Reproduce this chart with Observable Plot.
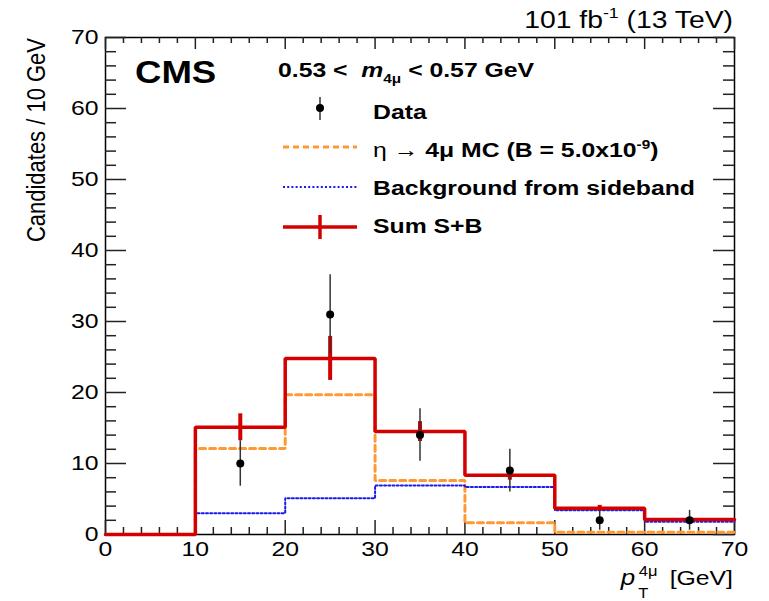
<!DOCTYPE html>
<html>
<head>
<meta charset="utf-8">
<script src="https://cdn.jsdelivr.net/npm/d3@7"></script>
<script src="https://cdn.jsdelivr.net/npm/@observablehq/plot@0.6"></script>
<style>
  html, body { margin: 0; padding: 0; background: white; }
  #chart svg { display: block; }
</style>
</head>
<body>
<div id="chart"></div>
<script>
// ---- data ----
const xEdges = [0, 10, 20, 30, 40, 50, 60, 70];          // bin edges (GeV)
const binCenters = [5, 15, 25, 35, 45, 55, 65];
const mcSignal = [0, 12.1, 19.7, 7.6, 1.65, 0.3, 0.3];  // eta -> 4mu MC
const bkgSideband = [0, 3.0, 5.1, 6.9, 6.7, 3.4, 1.8];  // background from sideband
const sumSB = [0, 15.1, 24.8, 14.5, 8.35, 3.7, 2.1];    // sum S+B
const sumErr = [0, 1.9, 3.1, 1.4, 0.7, 0.4, 0.3];
const dataX = [15, 25, 35, 45, 55, 65];
const dataY = [10, 31, 14, 9, 2, 2];
const dataErr = [3.2, 5.6, 3.7, 3.0, 1.4, 1.4];
const xMajor = [0, 10, 20, 30, 40, 50, 60, 70];
const yMajor = [0, 10, 20, 30, 40, 50, 60, 70];
const xMinor = d3.range(2, 70, 2).filter(v => v % 10 !== 0);
const yMinor = d3.range(2, 70, 2).filter(v => v % 10 !== 0);
const legendLabels = ["Data", "MC", "Background from sideband", "Sum S+B"];

// ---- layout ----
const W = 769, H = 601;
const mL = 105, mR = 35, mT = 37, mB = 67;
const pW = W - mL - mR, pH = H - mT - mB;
const FONT = "'Liberation Sans', Arial, Helvetica, sans-serif";
const SX = 1.18; // horizontal stretch of the reference's glyphs
const RED = "#d40000", ORANGE = "#ff9933", BLUE = "#1a1aee";

const steps = vals => xEdges.map((x, i) => ({x, y: vals[Math.min(i, vals.length - 1)]}));
const sumErrRows = binCenters.map((x, i) => ({x, y: sumSB[i], e: sumErr[i]})).filter(d => d.e > 0);
const dataRows = dataX.map((x, i) => ({x, y: dataY[i], e: dataErr[i]}));

const plot = Plot.plot({
  width: W, height: H,
  marginLeft: mL, marginRight: mR, marginTop: mT, marginBottom: mB,
  style: {fontFamily: FONT, background: "white", color: "black"},
  x: {domain: [0, 70]},
  y: {domain: [0, 70]},
  marks: [
    Plot.frame({stroke: "black", strokeWidth: 1.5}),
    // inner ticks
    Plot.ruleX(xMajor, {x: d => d, insetTop: pH - 14, stroke: "#222", strokeWidth: 1.5}),
    Plot.ruleX(xMajor, {x: d => d, insetBottom: pH - 12, stroke: "#222", strokeWidth: 1.5}),
    Plot.ruleX(xMinor, {x: d => d, insetTop: pH - 7, stroke: "#222", strokeWidth: 1.5}),
    Plot.ruleX(xMinor, {x: d => d, insetBottom: pH - 6, stroke: "#222", strokeWidth: 1.5}),
    Plot.ruleY(yMajor, {y: d => d, insetRight: pW - 21, stroke: "#222", strokeWidth: 1.5}),
    Plot.ruleY(yMajor, {y: d => d, insetLeft: pW - 21, stroke: "#222", strokeWidth: 1.5}),
    Plot.ruleY(yMinor, {y: d => d, insetRight: pW - 11, stroke: "#222", strokeWidth: 1.5}),
    Plot.ruleY(yMinor, {y: d => d, insetLeft: pW - 11, stroke: "#222", strokeWidth: 1.5}),
    Plot.axisX({ticks: xMajor, tickSize: 0, tickPadding: 7, fontSize: 21, label: null, tickFormat: d => String(d)}),
    Plot.axisY({ticks: yMajor, tickSize: 0, tickPadding: 7, fontSize: 21, label: null, tickFormat: d => String(d)}),
    // histograms
    Plot.line(steps(mcSignal), {x: "x", y: "y", curve: "step-after", stroke: ORANGE, strokeWidth: 3, strokeDasharray: "6,4", strokeLinejoin: "miter"}),
    Plot.line(steps(bkgSideband), {x: "x", y: "y", curve: "step-after", stroke: BLUE, strokeWidth: 2, strokeDasharray: "2,2.2", strokeLinejoin: "miter"}),
    Plot.line(steps(sumSB), {x: "x", y: "y", curve: "step-after", stroke: RED, strokeWidth: 3.5, strokeLinejoin: "miter"}),
    Plot.ruleX(sumErrRows, {x: "x", y1: d => d.y - d.e, y2: d => d.y + d.e, stroke: RED, strokeWidth: 4}),
    // data
    Plot.ruleX(dataRows, {x: "x", y1: d => d.y - d.e, y2: d => d.y + d.e, stroke: "#333", strokeWidth: 1.5}),
    Plot.dot(dataRows, {x: "x", y: "y", r: 4, fill: "black", stroke: "none"})
  ]
});

document.getElementById("chart").appendChild(plot);
const svg = d3.select(plot);

// stretch tick labels horizontally like the reference
svg.selectAll('g[aria-label="x-axis tick label"] text, g[aria-label="y-axis tick label"] text').each(function () {
  const t = this.getAttribute("transform") || "";
  this.setAttribute("transform", t + ` scale(${SX},1)`);
});

const ann = svg.append("g").attr("font-family", FONT).attr("fill", "black");
const textAt = (x, y, opts = {}) => ann.append("text")
  .attr("transform", `translate(${x},${y}) scale(${SX},1)`)
  .attr("font-size", opts.size || 21)
  .attr("font-weight", opts.weight || "normal")
  .attr("text-anchor", opts.anchor || "start")
  .style("white-space", "pre");

// top-right luminosity label
{
  const t = textAt(733, 28, {size: 24, anchor: "end"});
  t.append("tspan").text("101 fb");
  t.append("tspan").attr("font-size", 15).attr("dy", -10).text("-1");
  t.append("tspan").attr("dy", 10).text(" (13 TeV)");
}
// CMS
textAt(135, 83, {size: 31, weight: "bold"}).text("CMS");
// mass window
{
  const t = textAt(278, 77, {size: 21, weight: "bold"});
  t.append("tspan").text("0.53 <  ");
  t.append("tspan").attr("font-style", "italic").text("m");
  t.append("tspan").attr("font-size", 13).attr("dy", 6).text("4μ");
  t.append("tspan").attr("dy", -6).text(" < 0.57 GeV");
}
// legend symbols
const leg = svg.append("g");
leg.append("line").attr("x1", 320).attr("x2", 320).attr("y1", 97).attr("y2", 120).attr("stroke", "#333").attr("stroke-width", 1.5);
leg.append("circle").attr("cx", 320).attr("cy", 108).attr("r", 4).attr("fill", "black");
leg.append("line").attr("x1", 283).attr("x2", 357).attr("y1", 147).attr("y2", 147).attr("stroke", ORANGE).attr("stroke-width", 3).attr("stroke-dasharray", "6,4");
leg.append("line").attr("x1", 283).attr("x2", 357).attr("y1", 187).attr("y2", 187).attr("stroke", BLUE).attr("stroke-width", 2).attr("stroke-dasharray", "2,2.2");
leg.append("line").attr("x1", 283).attr("x2", 357).attr("y1", 227).attr("y2", 227).attr("stroke", RED).attr("stroke-width", 3.5);
leg.append("line").attr("x1", 320).attr("x2", 320).attr("y1", 215).attr("y2", 239).attr("stroke", RED).attr("stroke-width", 3.5);
// legend labels
textAt(373, 119, {weight: "bold"}).text(legendLabels[0]);
{
  const t = textAt(373, 157, {weight: "bold"});
  t.append("tspan").attr("font-weight", "normal").text("η → ");
  t.append("tspan").text("4μ " + legendLabels[1] + " (B = 5.0x10");
  t.append("tspan").attr("font-size", 13).attr("dy", -8).text("-9");
  t.append("tspan").attr("dy", 8).text(")");
}
textAt(373, 195, {weight: "bold"}).text(legendLabels[2]);
textAt(373, 233, {weight: "bold"}).text(legendLabels[3]);

// y axis title
ann.append("text")
  .attr("transform", `translate(45,38) scale(${SX},1) rotate(-90)`)
  .attr("font-size", 22).attr("text-anchor", "end")
  .text("Candidates / 10 GeV");

// x axis title: p_T^{4mu} [GeV]
{
  const g = ann.append("g").attr("transform", `translate(733,585) scale(${SX},1)`);
  g.append("text").attr("x", -89).attr("font-size", 22).attr("font-style", "italic").text("p");
  g.append("text").attr("x", -76).attr("y", 13).attr("font-size", 14).text("T");
  g.append("text").attr("x", -72).attr("y", -9).attr("font-size", 14).text("4μ");
  g.append("text").attr("x", 0).attr("font-size", 21).attr("text-anchor", "end").text("[GeV]");
}
</script>
</body>
</html>
